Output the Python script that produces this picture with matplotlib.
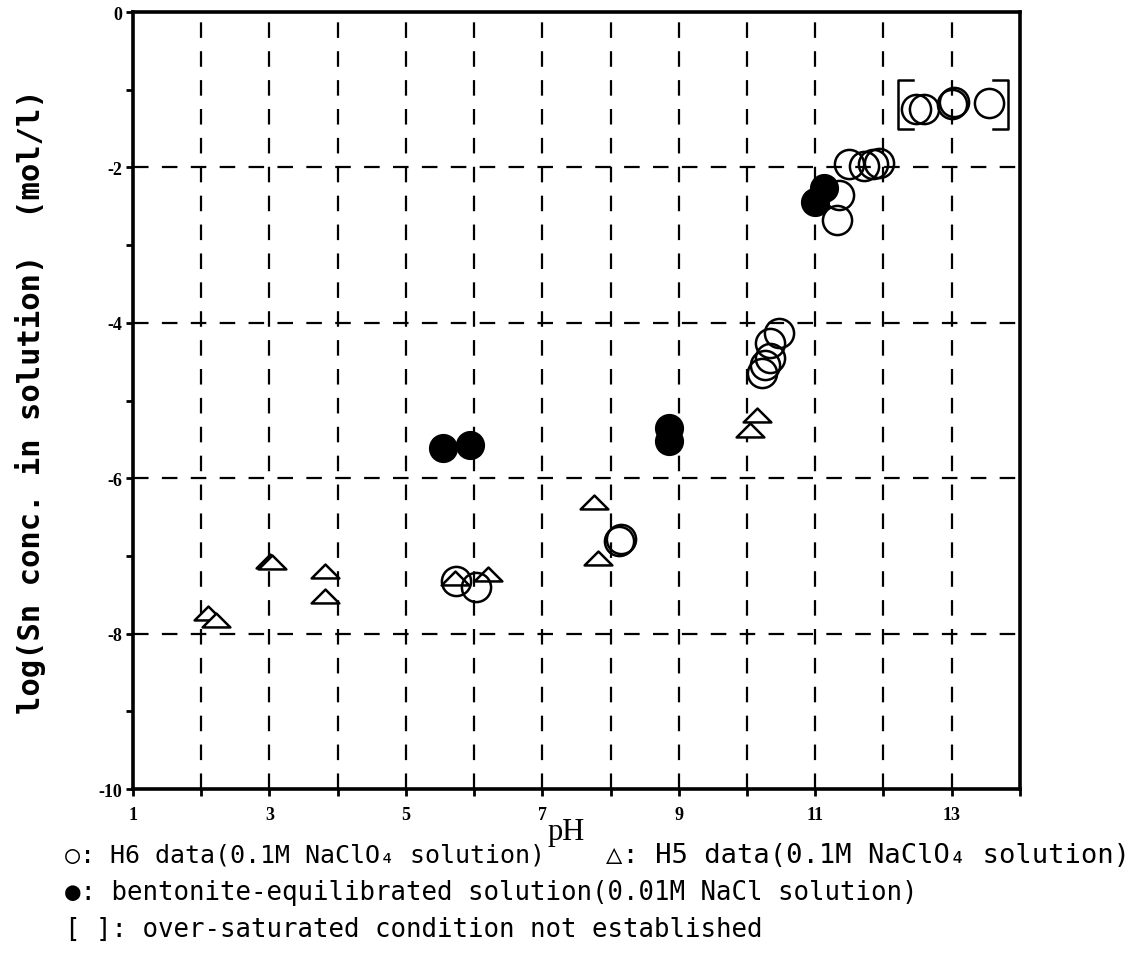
import matplotlib
matplotlib.use("Agg")
import matplotlib.pyplot as plt
from matplotlib.path import Path
import numpy as np

# H6 data (0.1M NaClO4), open circles
h6_ph = [12.47, 12.59, 13.01, 13.04, 13.54, 11.50, 11.72, 11.84, 11.94, 11.35, 11.32,
         10.47, 10.34, 10.34, 10.26, 10.22, 8.13, 8.15, 5.74, 6.03]
h6_log = [-1.25, -1.25, -1.19, -1.16, -1.17, -1.96, -1.98, -1.96, -1.94, -2.36, -2.68,
          -4.13, -4.26, -4.45, -4.54, -4.65, -6.81, -6.78, -7.32, -7.40]

# H5 data (0.1M NaClO4), open triangles
h5_ph = [2.10, 2.21, 3.01, 3.03, 3.82, 3.82, 5.72, 6.20, 7.75, 7.82, 10.15, 10.04]
h5_log = [-7.74, -7.83, -7.06, -7.08, -7.20, -7.52, -7.29, -7.23, -6.30, -7.03, -5.19, -5.38]

# bentonite-equilibrated solution (0.01M NaCl), filled circles
bent_ph = [5.54, 5.94, 8.85, 8.85, 11.00, 11.13]
bent_log = [-5.61, -5.57, -5.35, -5.52, -2.45, -2.26]

# bracket around the over-saturated points
bracket_ph = [12.21, 13.82]
bracket_log = [-0.88, -1.50]

# flattened triangle marker
tri = Path([(-1, -0.5), (1, -0.5), (0, 0.5), (-1, -0.5)],
           [Path.MOVETO, Path.LINETO, Path.LINETO, Path.CLOSEPOLY])

fig = plt.figure(figsize=(11.32, 9.79), dpi=100)
ax = fig.add_axes([0.1175, 0.193, 0.7835, 0.7937])

ax.set_xlim(1, 14)
ax.set_ylim(-10, 0)

# dashed grid
for x in range(2, 14):
    ax.axvline(x, color="black", lw=1.6, ls=(0, (7, 6)), zorder=1)
for y in [-2, -4, -6, -8]:
    ax.axhline(y, color="black", lw=1.6, ls=(0, (7, 6)), zorder=1)

ax.plot(h5_ph, h5_log, ls="none", marker=tri, markersize=20, mfc="white",
        mec="black", mew=1.8, zorder=3)
ax.plot(h6_ph, h6_log, ls="none", marker="o", markersize=21, mfc="none",
        mec="black", mew=1.8, zorder=4)
ax.plot(bent_ph, bent_log, ls="none", marker="o", markersize=20, mfc="black",
        mec="black", mew=1, zorder=5)

# brackets
serif = 0.22
x0, x1 = bracket_ph
yt, yb = bracket_log
ax.plot([x0 + serif, x0, x0, x0 + serif], [yt, yt, yb, yb], color="black", lw=1.8, zorder=6)
ax.plot([x1 - serif, x1, x1, x1 - serif], [yt, yt, yb, yb], color="black", lw=1.8, zorder=6)

# ticks
ax.set_xticks(range(1, 15))
ax.set_xticklabels([str(v) if v % 2 == 1 and v < 14 else "" for v in range(1, 15)])
ax.set_yticks(range(-10, 1))
ax.set_yticklabels([str(v) if v % 2 == 0 else "" for v in range(-10, 1)])
ax.tick_params(direction="out", length=5, width=2, color="black")
ax.tick_params(axis="x", pad=7)
ax.tick_params(axis="y", pad=3)
for lab in ax.get_xticklabels() + ax.get_yticklabels():
    lab.set_fontfamily("Liberation Serif")
    lab.set_fontweight("bold")
    lab.set_fontsize(13)

for s in ax.spines.values():
    s.set_linewidth(2.6)

fig.text(0.5, 0.150, "pH", family="Liberation Serif", fontsize=22,
         ha="center", va="center")
fig.text(0.027, 0.59, "log(Sn conc. in solution)  (mol/l)",
         family="DejaVu Sans Mono", fontweight="bold", fontsize=22,
         rotation=90, ha="center", va="center")

fam = ["DejaVu Sans Mono", "DejaVu Sans"]
fig.text(0.057, 0.126, "○: H6 data(0.1M NaClO₄ solution)", family=fam, fontsize=18,
         ha="left", va="center")
fig.text(0.535, 0.126, "△: H5 data(0.1M NaClO₄ solution)", family=fam, fontsize=19.5,
         ha="left", va="center")
fig.text(0.057, 0.088, "●: bentonite-equilibrated solution(0.01M NaCl solution)", family=fam,
         fontsize=18.5, ha="left", va="center")
fig.text(0.057, 0.050, "[ ]: over-saturated condition not established", family=fam,
         fontsize=18.5, ha="left", va="center")

fig.savefig("out.png", dpi=100)
